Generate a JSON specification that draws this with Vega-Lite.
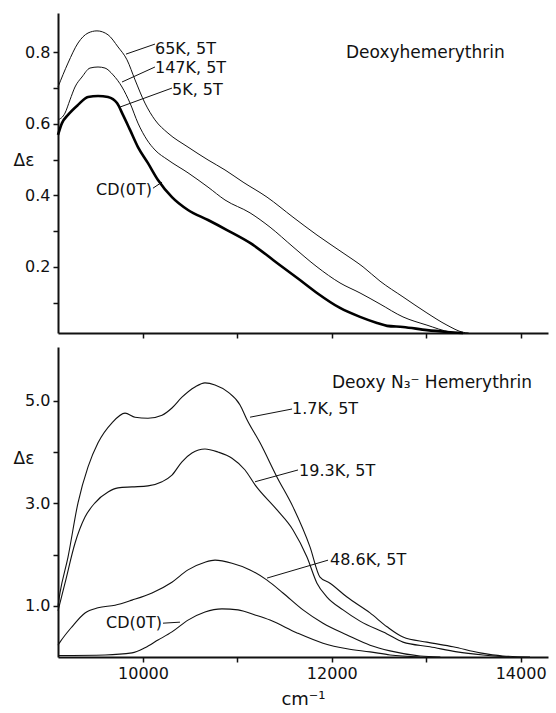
{
  "$schema": "https://vega.github.io/schema/vega-lite/v6.json",
  "background": "white",
  "padding": {"left": 13, "top": 13, "right": 5, "bottom": 2},
  "bounds": "flush",
  "spacing": 14,
  "config": {
    "view": {"stroke": null},
    "font": "DejaVu Sans",
    "axis": {
      "domainColor": "#111", "domainWidth": 2, "tickColor": "#111", "tickWidth": 1.5, "tickSize": 5,
      "labelColor": "#111", "labelFont": "DejaVu Sans", "labelFontSize": 16, "labelPadding": 3,
      "grid": false, "titleColor": "#111", "titleFont": "DejaVu Sans", "titleFontWeight": "normal"
    }
  },
  "datasets": {
    "top": [
      {"series": "65K, 5T", "wn": 9100, "de": 0.703}, {"series": "65K, 5T", "wn": 9206, "de": 0.770}, {"series": "65K, 5T", "wn": 9312, "de": 0.826}, {"series": "65K, 5T", "wn": 9418, "de": 0.854}, {"series": "65K, 5T", "wn": 9513, "de": 0.860}, {"series": "65K, 5T", "wn": 9630, "de": 0.849}, {"series": "65K, 5T", "wn": 9736, "de": 0.815}, {"series": "65K, 5T", "wn": 9831, "de": 0.779}, {"series": "65K, 5T", "wn": 9916, "de": 0.723}, {"series": "65K, 5T", "wn": 10021, "de": 0.658}, {"series": "65K, 5T", "wn": 10127, "de": 0.611}, {"series": "65K, 5T", "wn": 10265, "de": 0.574}, {"series": "65K, 5T", "wn": 10477, "de": 0.535}, {"series": "65K, 5T", "wn": 10689, "de": 0.499}, {"series": "65K, 5T", "wn": 10869, "de": 0.471}, {"series": "65K, 5T", "wn": 11060, "de": 0.437}, {"series": "65K, 5T", "wn": 11314, "de": 0.395}, {"series": "65K, 5T", "wn": 11589, "de": 0.339}, {"series": "65K, 5T", "wn": 11843, "de": 0.289}, {"series": "65K, 5T", "wn": 12119, "de": 0.239}, {"series": "65K, 5T", "wn": 12331, "de": 0.200}, {"series": "65K, 5T", "wn": 12511, "de": 0.160}, {"series": "65K, 5T", "wn": 12754, "de": 0.116}, {"series": "65K, 5T", "wn": 13008, "de": 0.071}, {"series": "65K, 5T", "wn": 13220, "de": 0.037}, {"series": "65K, 5T", "wn": 13390, "de": 0.017}, {"series": "65K, 5T", "wn": 13450, "de": 0.015},
      {"series": "147K, 5T", "wn": 9100, "de": 0.611}, {"series": "147K, 5T", "wn": 9174, "de": 0.630}, {"series": "147K, 5T", "wn": 9227, "de": 0.667}, {"series": "147K, 5T", "wn": 9280, "de": 0.703}, {"series": "147K, 5T", "wn": 9354, "de": 0.731}, {"series": "147K, 5T", "wn": 9439, "de": 0.756}, {"series": "147K, 5T", "wn": 9524, "de": 0.759}, {"series": "147K, 5T", "wn": 9598, "de": 0.756}, {"series": "147K, 5T", "wn": 9683, "de": 0.737}, {"series": "147K, 5T", "wn": 9778, "de": 0.703}, {"series": "147K, 5T", "wn": 9863, "de": 0.658}, {"series": "147K, 5T", "wn": 9947, "de": 0.602}, {"series": "147K, 5T", "wn": 10043, "de": 0.555}, {"series": "147K, 5T", "wn": 10127, "de": 0.527}, {"series": "147K, 5T", "wn": 10265, "de": 0.499}, {"series": "147K, 5T", "wn": 10477, "de": 0.463}, {"series": "147K, 5T", "wn": 10689, "de": 0.423}, {"series": "147K, 5T", "wn": 10869, "de": 0.387}, {"series": "147K, 5T", "wn": 11134, "de": 0.351}, {"series": "147K, 5T", "wn": 11346, "de": 0.311}, {"series": "147K, 5T", "wn": 11589, "de": 0.256}, {"series": "147K, 5T", "wn": 11843, "de": 0.200}, {"series": "147K, 5T", "wn": 12087, "de": 0.155}, {"series": "147K, 5T", "wn": 12299, "de": 0.127}, {"series": "147K, 5T", "wn": 12511, "de": 0.096}, {"series": "147K, 5T", "wn": 12754, "de": 0.060}, {"series": "147K, 5T", "wn": 13008, "de": 0.037}, {"series": "147K, 5T", "wn": 13252, "de": 0.018}, {"series": "147K, 5T", "wn": 13390, "de": 0.015},
      {"series": "5K, 5T / CD(0T)", "wn": 9100, "de": 0.569}, {"series": "5K, 5T / CD(0T)", "wn": 9142, "de": 0.602}, {"series": "5K, 5T / CD(0T)", "wn": 9206, "de": 0.625}, {"series": "5K, 5T / CD(0T)", "wn": 9312, "de": 0.653}, {"series": "5K, 5T / CD(0T)", "wn": 9418, "de": 0.675}, {"series": "5K, 5T / CD(0T)", "wn": 9524, "de": 0.678}, {"series": "5K, 5T / CD(0T)", "wn": 9630, "de": 0.675}, {"series": "5K, 5T / CD(0T)", "wn": 9725, "de": 0.658}, {"series": "5K, 5T / CD(0T)", "wn": 9788, "de": 0.625}, {"series": "5K, 5T / CD(0T)", "wn": 9863, "de": 0.583}, {"series": "5K, 5T / CD(0T)", "wn": 9947, "de": 0.535}, {"series": "5K, 5T / CD(0T)", "wn": 10053, "de": 0.490}, {"series": "5K, 5T / CD(0T)", "wn": 10159, "de": 0.443}, {"series": "5K, 5T / CD(0T)", "wn": 10307, "de": 0.395}, {"series": "5K, 5T / CD(0T)", "wn": 10477, "de": 0.359}, {"series": "5K, 5T / CD(0T)", "wn": 10689, "de": 0.331}, {"series": "5K, 5T / CD(0T)", "wn": 10890, "de": 0.303}, {"series": "5K, 5T / CD(0T)", "wn": 11134, "de": 0.267}, {"series": "5K, 5T / CD(0T)", "wn": 11420, "de": 0.211}, {"series": "5K, 5T / CD(0T)", "wn": 11663, "de": 0.163}, {"series": "5K, 5T / CD(0T)", "wn": 11843, "de": 0.127}, {"series": "5K, 5T / CD(0T)", "wn": 12087, "de": 0.085}, {"series": "5K, 5T / CD(0T)", "wn": 12299, "de": 0.060}, {"series": "5K, 5T / CD(0T)", "wn": 12479, "de": 0.043}, {"series": "5K, 5T / CD(0T)", "wn": 12585, "de": 0.035}, {"series": "5K, 5T / CD(0T)", "wn": 12754, "de": 0.032}, {"series": "5K, 5T / CD(0T)", "wn": 13008, "de": 0.023}, {"series": "5K, 5T / CD(0T)", "wn": 13220, "de": 0.018}, {"series": "5K, 5T / CD(0T)", "wn": 13390, "de": 0.015}
    ],
    "bottom": [
      {"series": "1.7K, 5T", "wn": 9100, "de": 1.00}, {"series": "1.7K, 5T", "wn": 9121, "de": 1.25}, {"series": "1.7K, 5T", "wn": 9206, "de": 1.95}, {"series": "1.7K, 5T", "wn": 9312, "de": 3.01}, {"series": "1.7K, 5T", "wn": 9418, "de": 3.71}, {"series": "1.7K, 5T", "wn": 9524, "de": 4.18}, {"series": "1.7K, 5T", "wn": 9672, "de": 4.57}, {"series": "1.7K, 5T", "wn": 9810, "de": 4.76}, {"series": "1.7K, 5T", "wn": 9916, "de": 4.68}, {"series": "1.7K, 5T", "wn": 10053, "de": 4.66}, {"series": "1.7K, 5T", "wn": 10202, "de": 4.72}, {"series": "1.7K, 5T", "wn": 10307, "de": 4.86}, {"series": "1.7K, 5T", "wn": 10413, "de": 5.07}, {"series": "1.7K, 5T", "wn": 10551, "de": 5.27}, {"series": "1.7K, 5T", "wn": 10657, "de": 5.35}, {"series": "1.7K, 5T", "wn": 10763, "de": 5.31}, {"series": "1.7K, 5T", "wn": 10901, "de": 5.17}, {"series": "1.7K, 5T", "wn": 11028, "de": 4.92}, {"series": "1.7K, 5T", "wn": 11102, "de": 4.63}, {"series": "1.7K, 5T", "wn": 11240, "de": 4.18}, {"series": "1.7K, 5T", "wn": 11420, "de": 3.51}, {"series": "1.7K, 5T", "wn": 11589, "de": 2.93}, {"series": "1.7K, 5T", "wn": 11769, "de": 2.15}, {"series": "1.7K, 5T", "wn": 11875, "de": 1.56}, {"series": "1.7K, 5T", "wn": 11981, "de": 1.44}, {"series": "1.7K, 5T", "wn": 12161, "de": 1.17}, {"series": "1.7K, 5T", "wn": 12405, "de": 0.86}, {"series": "1.7K, 5T", "wn": 12585, "de": 0.59}, {"series": "1.7K, 5T", "wn": 12754, "de": 0.39}, {"series": "1.7K, 5T", "wn": 13008, "de": 0.29}, {"series": "1.7K, 5T", "wn": 13284, "de": 0.20}, {"series": "1.7K, 5T", "wn": 13570, "de": 0.08}, {"series": "1.7K, 5T", "wn": 13813, "de": 0.02}, {"series": "1.7K, 5T", "wn": 14100, "de": 0.0},
      {"series": "19.3K, 5T", "wn": 9100, "de": 0.90}, {"series": "19.3K, 5T", "wn": 9174, "de": 1.44}, {"series": "19.3K, 5T", "wn": 9280, "de": 2.22}, {"series": "19.3K, 5T", "wn": 9386, "de": 2.73}, {"series": "19.3K, 5T", "wn": 9492, "de": 3.01}, {"series": "19.3K, 5T", "wn": 9630, "de": 3.22}, {"series": "19.3K, 5T", "wn": 9736, "de": 3.30}, {"series": "19.3K, 5T", "wn": 9884, "de": 3.32}, {"series": "19.3K, 5T", "wn": 10053, "de": 3.34}, {"series": "19.3K, 5T", "wn": 10202, "de": 3.42}, {"series": "19.3K, 5T", "wn": 10307, "de": 3.55}, {"series": "19.3K, 5T", "wn": 10413, "de": 3.81}, {"series": "19.3K, 5T", "wn": 10519, "de": 3.98}, {"series": "19.3K, 5T", "wn": 10657, "de": 4.06}, {"series": "19.3K, 5T", "wn": 10795, "de": 4.00}, {"series": "19.3K, 5T", "wn": 10943, "de": 3.88}, {"series": "19.3K, 5T", "wn": 11081, "de": 3.65}, {"series": "19.3K, 5T", "wn": 11187, "de": 3.36}, {"series": "19.3K, 5T", "wn": 11420, "de": 2.87}, {"series": "19.3K, 5T", "wn": 11589, "de": 2.48}, {"series": "19.3K, 5T", "wn": 11737, "de": 1.95}, {"series": "19.3K, 5T", "wn": 11843, "de": 1.44}, {"series": "19.3K, 5T", "wn": 11949, "de": 1.17}, {"series": "19.3K, 5T", "wn": 12119, "de": 0.92}, {"series": "19.3K, 5T", "wn": 12299, "de": 0.70}, {"series": "19.3K, 5T", "wn": 12585, "de": 0.45}, {"series": "19.3K, 5T", "wn": 12754, "de": 0.29}, {"series": "19.3K, 5T", "wn": 13040, "de": 0.20}, {"series": "19.3K, 5T", "wn": 13326, "de": 0.10}, {"series": "19.3K, 5T", "wn": 13602, "de": 0.04}, {"series": "19.3K, 5T", "wn": 13888, "de": 0.0},
      {"series": "48.6K, 5T", "wn": 9100, "de": 0.23}, {"series": "48.6K, 5T", "wn": 9121, "de": 0.29}, {"series": "48.6K, 5T", "wn": 9248, "de": 0.59}, {"series": "48.6K, 5T", "wn": 9386, "de": 0.86}, {"series": "48.6K, 5T", "wn": 9524, "de": 0.96}, {"series": "48.6K, 5T", "wn": 9704, "de": 1.01}, {"series": "48.6K, 5T", "wn": 9884, "de": 1.11}, {"series": "48.6K, 5T", "wn": 10096, "de": 1.25}, {"series": "48.6K, 5T", "wn": 10307, "de": 1.46}, {"series": "48.6K, 5T", "wn": 10477, "de": 1.70}, {"series": "48.6K, 5T", "wn": 10657, "de": 1.85}, {"series": "48.6K, 5T", "wn": 10763, "de": 1.89}, {"series": "48.6K, 5T", "wn": 10943, "de": 1.83}, {"series": "48.6K, 5T", "wn": 11134, "de": 1.70}, {"series": "48.6K, 5T", "wn": 11314, "de": 1.50}, {"series": "48.6K, 5T", "wn": 11483, "de": 1.25}, {"series": "48.6K, 5T", "wn": 11695, "de": 0.92}, {"series": "48.6K, 5T", "wn": 11907, "de": 0.66}, {"series": "48.6K, 5T", "wn": 12161, "de": 0.43}, {"series": "48.6K, 5T", "wn": 12405, "de": 0.23}, {"series": "48.6K, 5T", "wn": 12617, "de": 0.12}, {"series": "48.6K, 5T", "wn": 12935, "de": 0.02}, {"series": "48.6K, 5T", "wn": 13150, "de": 0.0},
      {"series": "CD(0T)", "wn": 9100, "de": 0.03}, {"series": "CD(0T)", "wn": 9598, "de": 0.04}, {"series": "CD(0T)", "wn": 9884, "de": 0.08}, {"series": "CD(0T)", "wn": 10021, "de": 0.18}, {"series": "CD(0T)", "wn": 10159, "de": 0.33}, {"series": "CD(0T)", "wn": 10307, "de": 0.49}, {"series": "CD(0T)", "wn": 10477, "de": 0.72}, {"series": "CD(0T)", "wn": 10657, "de": 0.88}, {"series": "CD(0T)", "wn": 10837, "de": 0.94}, {"series": "CD(0T)", "wn": 11007, "de": 0.92}, {"series": "CD(0T)", "wn": 11187, "de": 0.82}, {"series": "CD(0T)", "wn": 11346, "de": 0.72}, {"series": "CD(0T)", "wn": 11632, "de": 0.47}, {"series": "CD(0T)", "wn": 11907, "de": 0.27}, {"series": "CD(0T)", "wn": 12161, "de": 0.16}, {"series": "CD(0T)", "wn": 12405, "de": 0.10}, {"series": "CD(0T)", "wn": 12617, "de": 0.04}, {"series": "CD(0T)", "wn": 12935, "de": 0.0}
    ],
    "topLabels": [
      {"label": "65K, 5T", "wn": 10127, "de": 0.809},
      {"label": "147K, 5T", "wn": 10127, "de": 0.756},
      {"label": "5K, 5T", "wn": 10307, "de": 0.695},
      {"label": "CD(0T)", "wn": 10096, "de": 0.415}
    ],
    "topLeaders": [
      {"wn": 10127, "de": 0.823, "wn2": 9820, "de2": 0.795},
      {"wn": 10127, "de": 0.759, "wn2": 9778, "de2": 0.717},
      {"wn": 10307, "de": 0.700, "wn2": 9757, "de2": 0.647},
      {"wn": 10106, "de": 0.420, "wn2": 10202, "de2": 0.437}
    ],
    "topTitle": [{"label": "Deoxyhemerythrin", "wn": 12150, "de": 0.798}],
    "bottomLabels": [
      {"label": "1.7K, 5T", "wn": 11579, "de": 4.84},
      {"label": "19.3K, 5T", "wn": 11653, "de": 3.63},
      {"label": "48.6K, 5T", "wn": 11981, "de": 1.89},
      {"label": "CD(0T)", "wn": 10202, "de": 0.66}
    ],
    "bottomLeaders": [
      {"wn": 11134, "de": 4.68, "wn2": 11579, "de2": 4.84},
      {"wn": 11187, "de": 3.42, "wn2": 11642, "de2": 3.65},
      {"wn": 11314, "de": 1.54, "wn2": 11960, "de2": 1.89},
      {"wn": 10212, "de": 0.66, "wn2": 10392, "de2": 0.68}
    ],
    "bottomTitle": [{"label": "Deoxy N₃⁻ Hemerythrin", "wn": 12002, "de": 5.35}]
  },
  "vconcat": [
    {
      "width": 490,
      "height": 320,
      "layer": [
        {
          "data": {"name": "top"},
          "transform": [{"filter": "datum.series != '5K, 5T / CD(0T)'"}],
          "mark": {"type": "line", "interpolate": "monotone", "color": "#111", "strokeWidth": 1},
          "encoding": {
            "x": {"field": "wn", "type": "quantitative", "scale": {"domain": [9100, 14290], "nice": false, "zero": false},
              "axis": {"values": [10000, 11000, 12000, 13000, 14000], "labels": false, "title": null}},
            "y": {"field": "de", "type": "quantitative", "scale": {"domain": [0.015, 0.91], "nice": false, "zero": false},
              "axis": {"values": [0.1, 0.2, 0.3, 0.4, 0.5, 0.6, 0.7, 0.8], "format": ".1f",
                "labelExpr": "indexof(['0.2','0.4','0.6','0.8'], datum.label) >= 0 ? datum.label : ''",
                "title": "Δε", "titleAngle": 0, "titleX": -45, "titleY": 147, "titleAlign": "left", "titleBaseline": "middle", "titleFontSize": 17}},
            "detail": {"field": "series"}
          }
        },
        {
          "data": {"name": "top"},
          "transform": [{"filter": "datum.series == '5K, 5T / CD(0T)'"}],
          "mark": {"type": "line", "interpolate": "monotone", "color": "#000", "strokeWidth": 2.6},
          "encoding": {
            "x": {"field": "wn", "type": "quantitative"},
            "y": {"field": "de", "type": "quantitative"}
          }
        },
        {
          "data": {"name": "topLeaders"},
          "mark": {"type": "rule", "color": "#111", "strokeWidth": 1},
          "encoding": {
            "x": {"field": "wn", "type": "quantitative"},
            "y": {"field": "de", "type": "quantitative"},
            "x2": {"field": "wn2"},
            "y2": {"field": "de2"}
          }
        },
        {
          "data": {"name": "topLabels"},
          "transform": [{"filter": "datum.label != 'CD(0T)'"}],
          "mark": {"type": "text", "align": "left", "baseline": "middle", "fontSize": 16, "color": "#111"},
          "encoding": {
            "x": {"field": "wn", "type": "quantitative"},
            "y": {"field": "de", "type": "quantitative"},
            "text": {"field": "label"}
          }
        },
        {
          "data": {"name": "topLabels"},
          "transform": [{"filter": "datum.label == 'CD(0T)'"}],
          "mark": {"type": "text", "align": "right", "baseline": "middle", "fontSize": 16, "color": "#111"},
          "encoding": {
            "x": {"field": "wn", "type": "quantitative"},
            "y": {"field": "de", "type": "quantitative"},
            "text": {"field": "label"}
          }
        },
        {
          "data": {"name": "topTitle"},
          "mark": {"type": "text", "align": "left", "baseline": "middle", "fontSize": 17, "color": "#111"},
          "encoding": {
            "x": {"field": "wn", "type": "quantitative"},
            "y": {"field": "de", "type": "quantitative"},
            "text": {"field": "label"}
          }
        }
      ]
    },
    {
      "width": 490,
      "height": 310,
      "layer": [
        {
          "data": {"name": "bottom"},
          "mark": {"type": "line", "interpolate": "monotone", "color": "#111", "strokeWidth": 1.1},
          "encoding": {
            "x": {"field": "wn", "type": "quantitative", "scale": {"domain": [9100, 14290], "nice": false, "zero": false},
              "axis": {"values": [10000, 11000, 12000, 13000, 14000], "format": "d",
                "labelExpr": "datum.value % 2000 == 0 ? datum.label : ''",
                "title": "cm⁻¹", "titleFontSize": 18, "titlePadding": 9}},
            "y": {"field": "de", "type": "quantitative", "scale": {"domain": [0, 6.05], "nice": false, "zero": false},
              "axis": {"values": [1, 2, 3, 4, 5], "format": ".1f",
                "labelExpr": "indexof(['1.0','3.0','5.0'], datum.label) >= 0 ? datum.label : ''",
                "title": "Δε", "titleAngle": 0, "titleX": -45, "titleY": 111, "titleAlign": "left", "titleBaseline": "middle", "titleFontSize": 17}},
            "detail": {"field": "series"}
          }
        },
        {
          "data": {"name": "bottomLeaders"},
          "mark": {"type": "rule", "color": "#111", "strokeWidth": 1},
          "encoding": {
            "x": {"field": "wn", "type": "quantitative"},
            "y": {"field": "de", "type": "quantitative"},
            "x2": {"field": "wn2"},
            "y2": {"field": "de2"}
          }
        },
        {
          "data": {"name": "bottomLabels"},
          "transform": [{"filter": "datum.label != 'CD(0T)'"}],
          "mark": {"type": "text", "align": "left", "baseline": "middle", "fontSize": 16, "color": "#111"},
          "encoding": {
            "x": {"field": "wn", "type": "quantitative"},
            "y": {"field": "de", "type": "quantitative"},
            "text": {"field": "label"}
          }
        },
        {
          "data": {"name": "bottomLabels"},
          "transform": [{"filter": "datum.label == 'CD(0T)'"}],
          "mark": {"type": "text", "align": "right", "baseline": "middle", "fontSize": 16, "color": "#111"},
          "encoding": {
            "x": {"field": "wn", "type": "quantitative"},
            "y": {"field": "de", "type": "quantitative"},
            "text": {"field": "label"}
          }
        },
        {
          "data": {"name": "bottomTitle"},
          "mark": {"type": "text", "align": "left", "baseline": "middle", "fontSize": 17, "color": "#111"},
          "encoding": {
            "x": {"field": "wn", "type": "quantitative"},
            "y": {"field": "de", "type": "quantitative"},
            "text": {"field": "label"}
          }
        }
      ]
    }
  ]
}
